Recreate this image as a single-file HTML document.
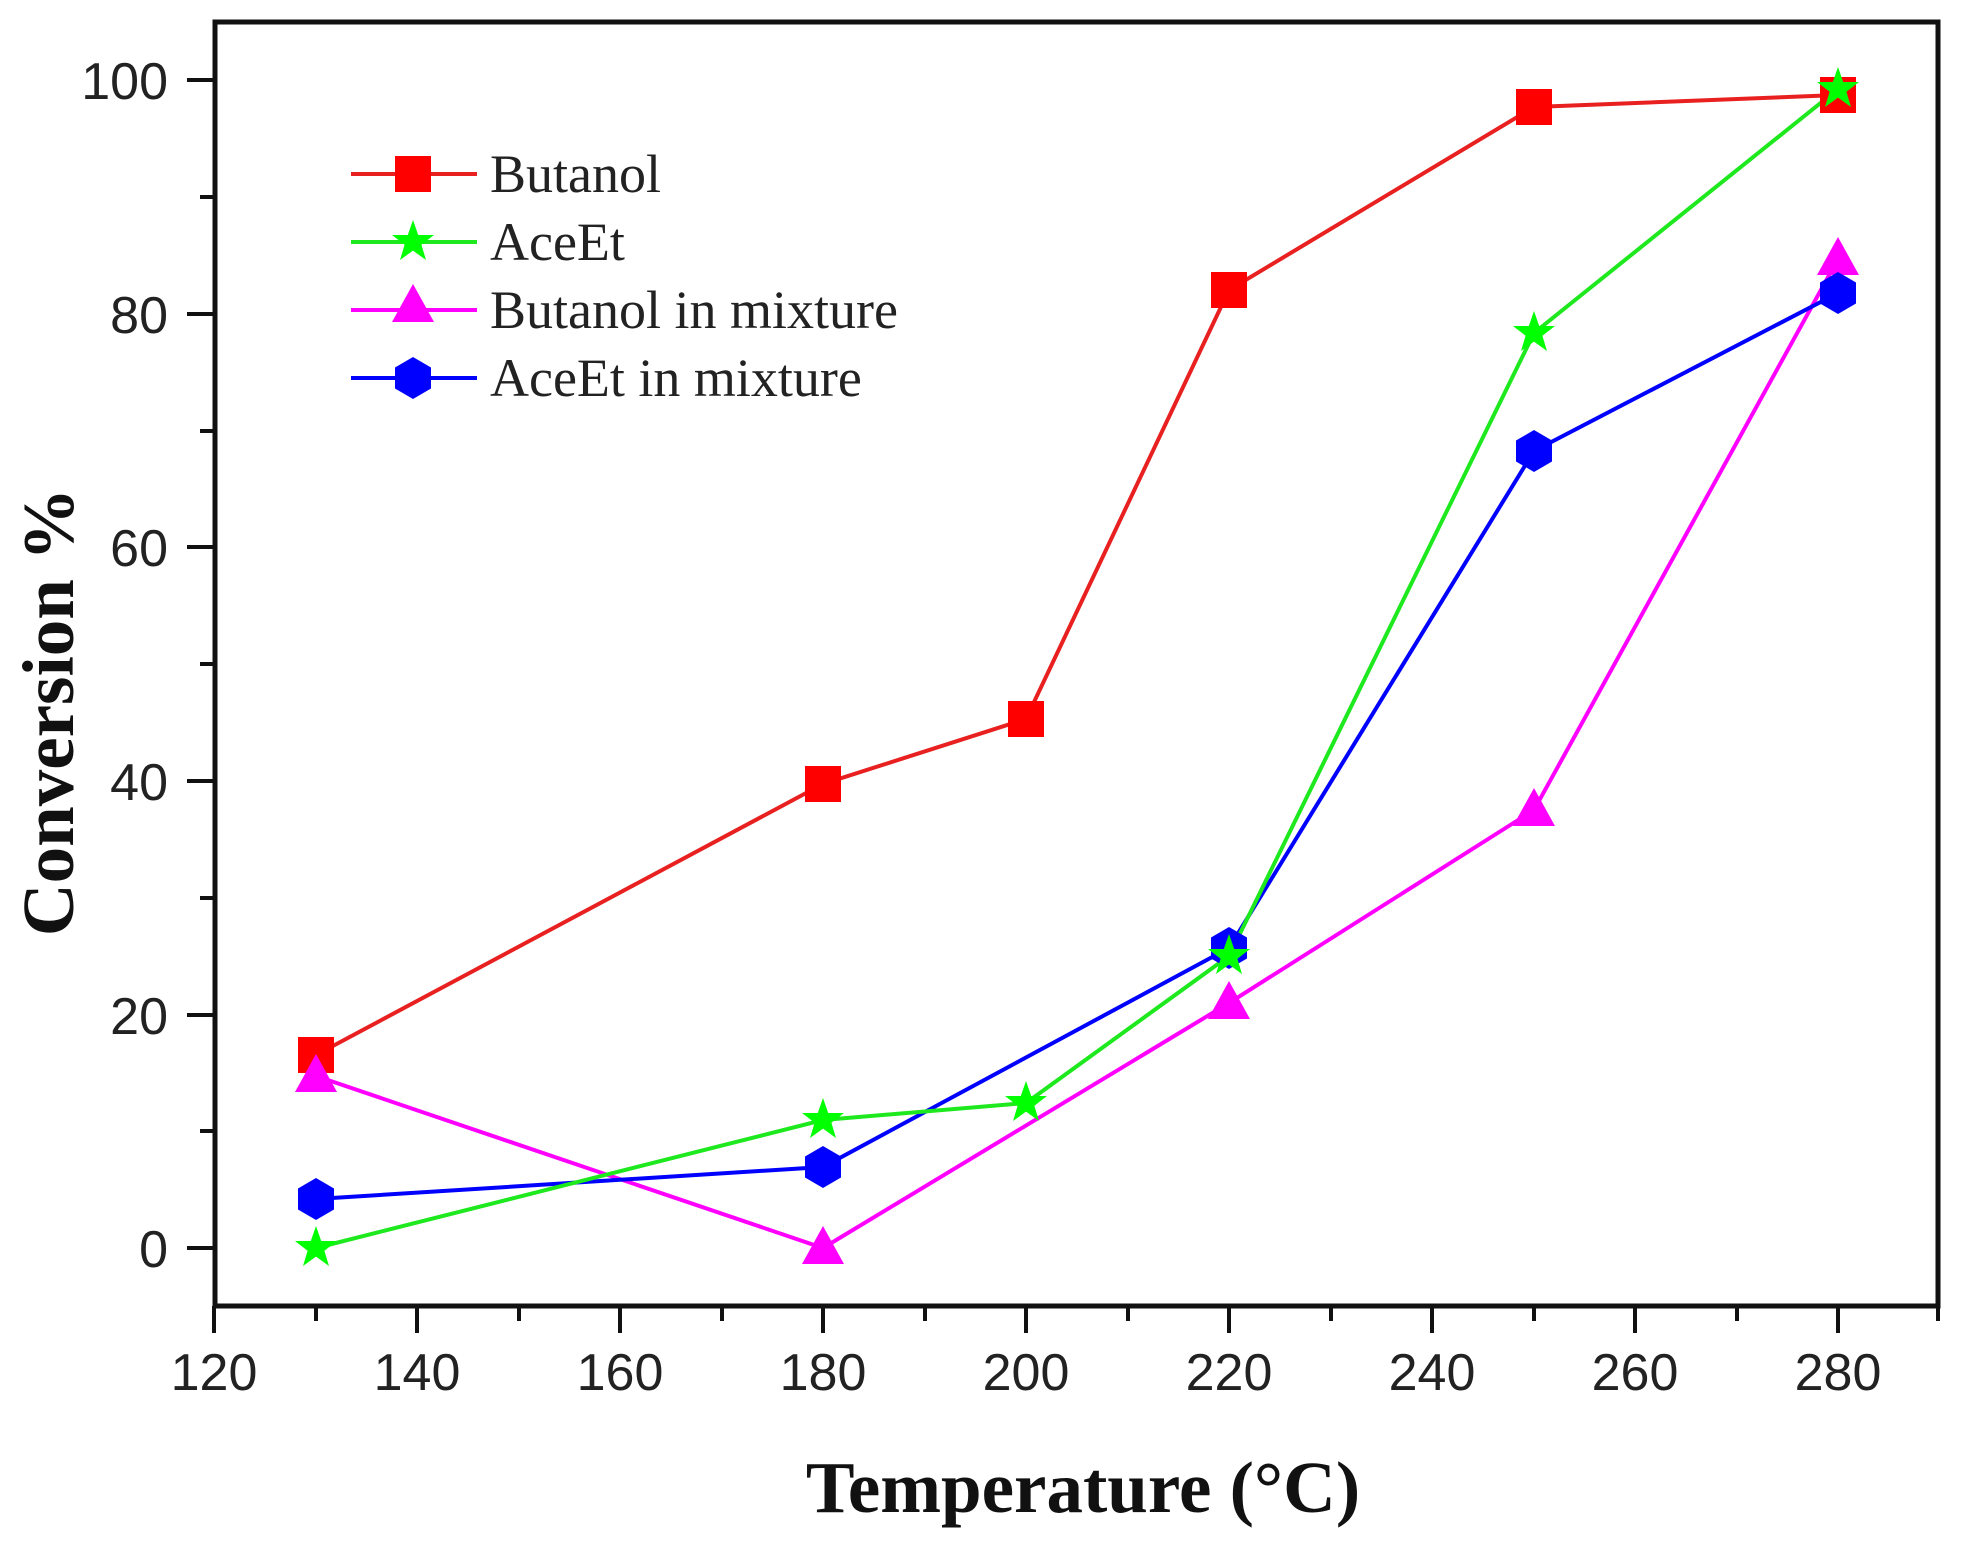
<!DOCTYPE html>
<html><head><meta charset="utf-8"><style>html,body{margin:0;padding:0;background:#fff}svg{display:block}</style></head>
<body>
<svg width="1965" height="1543" viewBox="0 0 1965 1543" xmlns="http://www.w3.org/2000/svg">
<rect width="1965" height="1543" fill="#fff"/>
<rect x="215" y="22" width="1723" height="1284" fill="none" stroke="#111" stroke-width="5"/>
<g stroke="#111" stroke-width="4">
<line x1="214" y1="1306" x2="214" y2="1333"/><line x1="316" y1="1306" x2="316" y2="1321"/>
<line x1="417" y1="1306" x2="417" y2="1333"/><line x1="519" y1="1306" x2="519" y2="1321"/>
<line x1="620" y1="1306" x2="620" y2="1333"/><line x1="722" y1="1306" x2="722" y2="1321"/>
<line x1="823" y1="1306" x2="823" y2="1333"/><line x1="925" y1="1306" x2="925" y2="1321"/>
<line x1="1026" y1="1306" x2="1026" y2="1333"/><line x1="1128" y1="1306" x2="1128" y2="1321"/>
<line x1="1229" y1="1306" x2="1229" y2="1333"/><line x1="1331" y1="1306" x2="1331" y2="1321"/>
<line x1="1432" y1="1306" x2="1432" y2="1333"/><line x1="1534" y1="1306" x2="1534" y2="1321"/>
<line x1="1635" y1="1306" x2="1635" y2="1333"/><line x1="1737" y1="1306" x2="1737" y2="1321"/>
<line x1="1838" y1="1306" x2="1838" y2="1333"/><line x1="1938" y1="1306" x2="1938" y2="1321"/>
<line x1="187" y1="1248" x2="215" y2="1248"/><line x1="200" y1="1131" x2="215" y2="1131"/>
<line x1="187" y1="1015" x2="215" y2="1015"/><line x1="200" y1="898" x2="215" y2="898"/>
<line x1="187" y1="781" x2="215" y2="781"/><line x1="200" y1="664" x2="215" y2="664"/>
<line x1="187" y1="547" x2="215" y2="547"/><line x1="200" y1="431" x2="215" y2="431"/>
<line x1="187" y1="314" x2="215" y2="314"/><line x1="200" y1="197" x2="215" y2="197"/>
<line x1="187" y1="80" x2="215" y2="80"/>
</g>
<g font-family="Liberation Sans, sans-serif" font-size="52" fill="#222" text-anchor="middle">
<text x="214" y="1390">120</text><text x="417" y="1390">140</text><text x="620" y="1390">160</text>
<text x="823" y="1390">180</text><text x="1026" y="1390">200</text><text x="1229" y="1390">220</text>
<text x="1432" y="1390">240</text><text x="1635" y="1390">260</text><text x="1838" y="1390">280</text>
</g>
<g font-family="Liberation Sans, sans-serif" font-size="52" fill="#222" text-anchor="end">
<text x="168" y="1267">0</text><text x="168" y="1034">20</text><text x="168" y="800">40</text>
<text x="168" y="566">60</text><text x="168" y="333">80</text><text x="168" y="99">100</text>
</g>
<text x="1083" y="1512" font-family="Liberation Serif, serif" font-weight="bold" font-size="73" text-anchor="middle" fill="#111">Temperature (°C)</text>
<text transform="translate(73,712) rotate(-90)" font-family="Liberation Serif, serif" font-weight="bold" font-size="73" text-anchor="middle" fill="#111">Conversion %</text>
<defs>
<rect id="sq" x="-18" y="-18" width="36" height="36" fill="#f00"/>
<polygon id="tr" points="0,-22 21,16 -21,16" fill="#f0f"/>
<polygon id="hx" points="0,-21 18,-10.5 18,10.5 0,21 -18,10.5 -18,-10.5" fill="#00f"/>
<polygon id="st" points="0,-22 5.2,-7 21,-7 8.4,2.7 13,18 0,8.6 -13,18 -8.4,2.7 -21,-7 -5.2,-7" fill="#0f0"/>
</defs>
<polyline fill="none" stroke="#e82020" stroke-width="4" points="316,1055 823,784 1026,719 1229,290 1534,107 1838,95"/>
<polyline fill="none" stroke="#f0f" stroke-width="4" points="316,1076 823,1248 1229,1003 1534,810 1838,259"/>
<polyline fill="none" stroke="#00f" stroke-width="4" points="316,1199 823,1167 1229,948 1534,451 1838,293"/>
<polyline fill="none" stroke="#1ee81e" stroke-width="4" points="316,1248 823,1120 1026,1103 1229,956 1534,333 1838,89"/>
<g>
<use href="#sq" x="316" y="1055"/><use href="#sq" x="823" y="784"/><use href="#sq" x="1026" y="719"/>
<use href="#sq" x="1229" y="290"/><use href="#sq" x="1534" y="107"/><use href="#sq" x="1838" y="95"/>
<use href="#tr" x="316" y="1076"/><use href="#tr" x="823" y="1248"/><use href="#tr" x="1229" y="1003"/>
<use href="#tr" x="1534" y="810"/><use href="#tr" x="1838" y="259"/>
<use href="#hx" x="316" y="1199"/><use href="#hx" x="823" y="1167"/><use href="#hx" x="1229" y="948"/>
<use href="#hx" x="1534" y="451"/><use href="#hx" x="1838" y="293"/>
<use href="#st" x="316" y="1248"/><use href="#st" x="823" y="1120"/><use href="#st" x="1026" y="1103"/>
<use href="#st" x="1229" y="956"/><use href="#st" x="1534" y="333"/><use href="#st" x="1838" y="89"/>
</g>
<g stroke-width="4">
<line x1="351" y1="174" x2="477" y2="174" stroke="#e82020"/>
<line x1="351" y1="242" x2="477" y2="242" stroke="#1ee81e"/>
<line x1="351" y1="310" x2="477" y2="310" stroke="#f0f"/>
<line x1="351" y1="378" x2="477" y2="378" stroke="#00f"/>
</g>
<use href="#sq" x="413" y="174"/><use href="#st" x="413" y="242"/><use href="#tr" x="413" y="306"/><use href="#hx" x="413" y="378"/>
<g font-family="Liberation Serif, serif" font-size="54" fill="#222">
<text x="490" y="192">Butanol</text>
<text x="490" y="260">AceEt</text>
<text x="490" y="328">Butanol in mixture</text>
<text x="490" y="396">AceEt in mixture</text>
</g>
</svg>
</body></html>
